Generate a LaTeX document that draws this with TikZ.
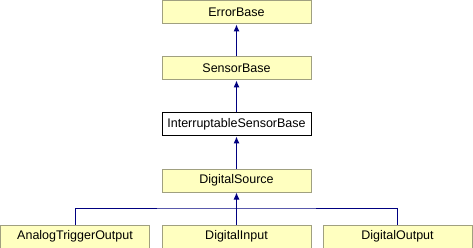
\documentclass[tikz,border=0pt]{standalone}
\usepackage{fontspec}
\setmainfont{Liberation Sans}
\usetikzlibrary{arrows.meta}
\definecolor{boxfill}{HTML}{FFFFC0}
\definecolor{boxline}{HTML}{A0A080}
\definecolor{edgeblue}{HTML}{000080}
\begin{document}
\begin{tikzpicture}[x=1pt,y=-1pt,
  cls/.style={draw=boxline,fill=boxfill,line width=1pt,minimum width=149pt,minimum height=23pt,
    inner sep=0pt,font=\fontsize{12.5}{14}\selectfont},
  curcls/.style={cls,draw=black,fill=white},
  edge/.style={draw=edgeblue,line width=1pt},
  inherit/.style={edge,-{Latex[length=7pt,width=6pt]}}]
  \useasboundingbox (0,0) rectangle (473,248);
  % base classes, stacked
  \node[cls]    (eb)  at (236.5,12.5)  {ErrorBase};
  \node[cls]    (sb)  at (236.5,68.5)  {SensorBase};
  \node[curcls] (isb) at (236.5,124.5) {InterruptableSensorBase};
  \node[cls]    (ds)  at (236.5,180.5) {DigitalSource};
  % derived classes
  \node[cls] (ato)  at (75,236.5)    {AnalogTriggerOutput};
  \node[cls] (din)  at (236.5,236.5) {DigitalInput};
  \node[cls] (dout) at (397.5,236.5) {DigitalOutput};
  \coordinate (j) at (236.5,208);
  % inheritance edges
  \draw[inherit] (sb.north)  -- (eb.south);
  \draw[inherit] (isb.north) -- (sb.south);
  \draw[inherit] (ds.north)  -- (isb.south);
  \draw[inherit] (din.north) -- (ds.south);
  \draw[edge] (ato.north) |- (j) -| (dout.north);
\end{tikzpicture}
\end{document}
